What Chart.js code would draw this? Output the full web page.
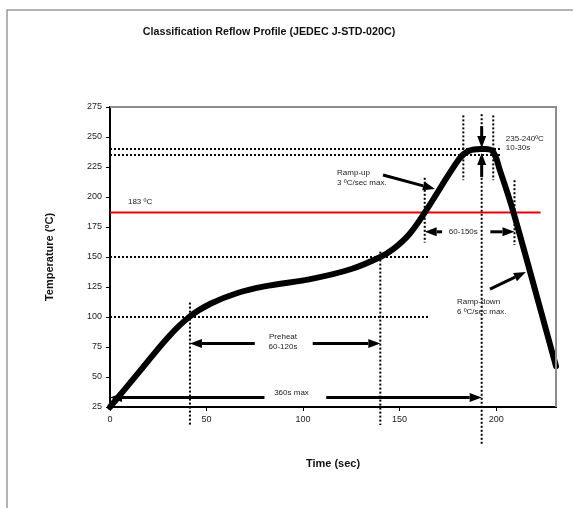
<!DOCTYPE html>
<html>
<head>
<meta charset="utf-8">
<script src="https://cdn.jsdelivr.net/npm/chart.js@4/dist/chart.umd.min.js"></script>
<style>
  body { margin: 0; background: #fff; }
</style>
</head>
<body>
<canvas id="reflow" width="573" height="508"></canvas>
<script>
// reflow profile curve (sec, degC)
const profileTime = [0, 15, 30, 41, 52, 66, 80, 105, 125, 140, 147, 155, 163, 181, 186, 192, 198, 202, 209, 231];
const profileTemp = [25, 54, 83, 100, 111, 120, 125.5, 132, 140, 150, 157, 169, 187, 232, 238.5, 240, 238.5, 222, 187, 59];

// 183 degC liquidus line
const liquidusTemp = 187;
const liquidusEnd = 223;

// dotted guide lines: [x1, y1, x2, y2]
const guideLines = [
    [0, 240, 202, 240],
    [0, 235, 202, 235],
    [0, 150, 165, 150],
    [0, 100, 165, 100],
    [41.4, 112, 41.4, 10],
    [140, 154.5, 140, 10],
    [192.5, 216, 192.5, -7],
    [192.5, 269, 192.5, 258],
    [183, 268, 183, 214],
    [198.5, 268, 198.5, 214],
    [163, 216, 163, 162],
    [209.5, 214, 209.5, 160]
];

// arrows: [tailX, tailY, headX, headY]
const arrows = [
    [75, 78, 41.4, 78],
    [105, 78, 140, 78],
    [80, 33, 0, 33],
    [112, 33, 192.5, 33],
    [172, 171, 163, 171],
    [197, 171, 209.5, 171],
    [141.4, 218.3, 168.3, 206.7],
    [196.8, 123.3, 215.4, 137.5],
    [192.5, 259, 192.5, 240.8],
    [192.5, 216.7, 192.5, 236.7]
];

// annotation texts
const noteText = ['183 ºC', 'Preheat', '60-120s', '360s max', '60-150s', 'Ramp-up', '3 ºC/sec max.', 'Ramp-down', '6 ºC/sec max.', '235-240ºC', '10-30s'];
const noteX = [9.3, 89.6, 89.6, 94, 183, 117.6, 117.6, 179.7, 179.7, 205, 205];
const noteY = [195.8, 83.3, 75, 36.7, 171, 220, 211.7, 112.5, 104.2, 248.3, 240.8];
const noteAlign = ['left', 'center', 'center', 'center', 'center', 'left', 'left', 'left', 'left', 'left', 'left'];

const xTicks = [0, 50, 100, 150, 200];

const fontFamily = '"Liberation Sans", Arial, sans-serif';

const frameAndNotes = {
    id: 'frameAndNotes',
    beforeDraw(chart) {
        const ctx = chart.ctx;
        ctx.save();
        ctx.strokeStyle = '#9a9a9a';
        ctx.lineWidth = 1.5;
        ctx.beginPath();
        ctx.moveTo(7, 600);
        ctx.lineTo(7, 10);
        ctx.lineTo(700, 10);
        ctx.stroke();
        ctx.fillStyle = '#111';
        ctx.font = 'bold 10.7px ' + fontFamily;
        ctx.textAlign = 'center';
        ctx.textBaseline = 'middle';
        ctx.fillText('Classification Reflow Profile (JEDEC J-STD-020C)', 269, 32);
        ctx.restore();
    },
    afterDatasetsDraw(chart) {
        const ctx = chart.ctx;
        const xs = chart.scales.x;
        const ys = chart.scales.y;
        const area = chart.chartArea;
        ctx.save();
        // gray top/right border
        ctx.strokeStyle = '#8c8c8c';
        ctx.lineWidth = 2;
        ctx.beginPath();
        ctx.moveTo(area.left, area.top);
        ctx.lineTo(area.right, area.top);
        ctx.lineTo(area.right, area.bottom);
        ctx.stroke();

        // arrows
        ctx.strokeStyle = '#000';
        ctx.fillStyle = '#000';
        ctx.lineWidth = 3;
        arrows.forEach(a => {
            const x1 = xs.getPixelForValue(a[0]);
            const y1 = ys.getPixelForValue(a[1]);
            const x2 = xs.getPixelForValue(a[2]);
            const y2 = ys.getPixelForValue(a[3]);
            const ang = Math.atan2(y2 - y1, x2 - x1);
            const len = 12, half = 4.5;
            const bx = x2 - len * Math.cos(ang);
            const by = y2 - len * Math.sin(ang);
            ctx.beginPath();
            ctx.moveTo(x1, y1);
            ctx.lineTo(bx, by);
            ctx.stroke();
            ctx.beginPath();
            ctx.moveTo(x2, y2);
            ctx.lineTo(bx + half * Math.sin(ang), by - half * Math.cos(ang));
            ctx.lineTo(bx - half * Math.sin(ang), by + half * Math.cos(ang));
            ctx.closePath();
            ctx.fill();
        });

        // notes
        ctx.fillStyle = '#222';
        ctx.font = '8px ' + fontFamily;
        ctx.textBaseline = 'middle';
        noteText.forEach((t, i) => {
            ctx.textAlign = noteAlign[i];
            ctx.fillText(t, xs.getPixelForValue(noteX[i]), ys.getPixelForValue(noteY[i]));
        });
        ctx.restore();
    }
};

const datasets = [
    {
        label: 'Profile',
        data: profileTime.map((t, i) => ({x: t, y: profileTemp[i]})),
        borderColor: '#000',
        borderWidth: 6,
        pointRadius: 0,
        tension: 0.35,
        borderCapStyle: 'round',
        borderJoinStyle: 'round',
        clip: false
    },
    {
        label: '183',
        data: [{x: 0, y: liquidusTemp}, {x: liquidusEnd, y: liquidusTemp}],
        borderColor: '#e8000b',
        borderWidth: 2,
        pointRadius: 0
    }
].concat(guideLines.map(g => ({
    label: 'guide',
    data: [{x: g[0], y: g[1]}, {x: g[2], y: g[3]}],
    borderColor: '#000',
    borderWidth: 2,
    borderDash: [2, 2],
    pointRadius: 0,
    clip: false
})));

new Chart('reflow', {
    type: 'line',
    data: {datasets: datasets},
    plugins: [frameAndNotes],
    options: {
        responsive: false,
        animation: false,
        layout: {padding: {top: 107, right: 17, left: 0, bottom: 0}},
        plugins: {
            legend: {display: false},
            tooltip: {enabled: false}
        },
        scales: {
            x: {
                type: 'linear',
                min: 0,
                max: 231,
                afterFit: s => { s.height = 101; },
                afterBuildTicks: s => { s.ticks = xTicks.map(v => ({value: v})); },
                ticks: {
                    color: '#222',
                    font: {size: 9, family: fontFamily},
                    padding: 3,
                    maxRotation: 0
                },
                grid: {display: true, drawOnChartArea: false, tickLength: 4, color: '#000'},
                border: {display: true, color: '#000', width: 2},
                title: {
                    display: true,
                    text: 'Time (sec)',
                    color: '#111',
                    font: {size: 11, weight: 'bold', family: fontFamily},
                    padding: {top: 0, bottom: 37}
                }
            },
            y: {
                min: 25,
                max: 275,
                afterFit: s => { s.width = 110; },
                ticks: {
                    stepSize: 25,
                    color: '#222',
                    font: {size: 9, family: fontFamily},
                    padding: 4
                },
                grid: {display: true, drawOnChartArea: false, tickLength: 4, color: '#000'},
                border: {display: true, color: '#000', width: 2},
                title: {
                    display: true,
                    text: 'Temperature (ºC)',
                    color: '#111',
                    font: {size: 11, weight: 'bold', family: fontFamily},
                    padding: {top: 43, bottom: 0}
                }
            }
        }
    }
});
</script>
</body>
</html>
